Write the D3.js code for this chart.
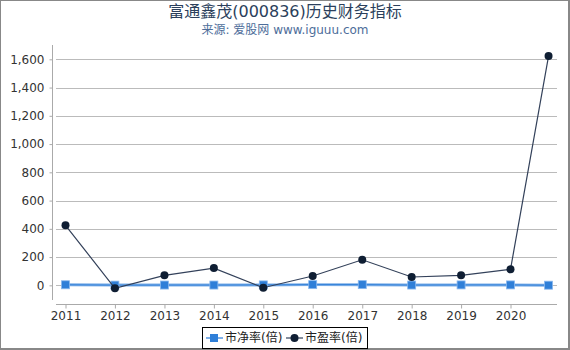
<!DOCTYPE html>
<html>
<head>
<meta charset="utf-8">
<script src="https://cdn.jsdelivr.net/npm/d3@7"></script>
<style>
  body { margin: 0; background: #fff; }
  svg { display: block; font-family: "DejaVu Sans", "Noto Sans CJK SC", sans-serif; }
</style>
</head>
<body>
<script>
// data
var dates = ["2011-01-01", "2012-01-01", "2013-01-01", "2014-01-01", "2015-01-01", "2016-01-01",
             "2017-01-01", "2018-01-01", "2019-01-01", "2020-01-01", "2020-10-08"];
var pb = [4, 1.5, 2, 2, 3, 5, 5, 2, 3, 3, 1];
var pe = [425, -21, 71, 122, -17, 66, 181, 59, 71, 113, 1623];
var yTicks = [0, 200, 400, 600, 800, 1000, 1200, 1400, 1600];
var xTickYears = [2011, 2012, 2013, 2014, 2015, 2016, 2017, 2018, 2019, 2020];

var w = 570, h = 350;
var parse = d3.timeParse("%Y-%m-%d");

var svg = d3.select("body").append("svg")
  .attr("width", w).attr("height", h);

// outer frame
svg.append("rect")
  .attr("x", 0.5).attr("y", 0.5).attr("width", w - 2).attr("height", h - 2)
  .style("fill", "none").style("stroke", "#888").style("stroke-width", 1);
svg.append("line").attr("x1", w - 1).attr("x2", w - 1).attr("y1", 0).attr("y2", h)
  .style("stroke", "#888").style("stroke-width", 2);
svg.append("line").attr("x1", 0).attr("x2", w).attr("y1", h - 1).attr("y2", h - 1)
  .style("stroke", "#888").style("stroke-width", 2);

// titles
svg.append("text").attr("x", 285).attr("y", 17).attr("text-anchor", "middle")
  .style("font-size", "16px").style("fill", "#2b3f5c")
  .text("富通鑫茂(000836)历史财务指标");
svg.append("text").attr("x", 285).attr("y", 34).attr("text-anchor", "middle")
  .style("font-size", "12px").style("fill", "#4d6d9a")
  .text("来源: 爱股网 www.iguuu.com");

var x = d3.scaleTime()
  .domain([parse("2011-01-01"), parse("2020-01-01")])
  .range([65.5, 510.5]);
var y = d3.scaleLinear()
  .domain([-135, 1700])
  .range([304.4, 45.2]);

// grid lines
svg.append("g").selectAll("line").data(yTicks).enter().append("line")
  .attr("x1", 56).attr("x2", 557)
  .attr("y1", function(d) { return Math.round(y(d)) + 0.5; })
  .attr("y2", function(d) { return Math.round(y(d)) + 0.5; })
  .style("stroke", "#bbb").style("stroke-width", 1);

// y axis
var yAxis = svg.append("g").attr("transform", "translate(52.5,0)")
  .call(d3.axisLeft(y).tickValues(yTicks).tickSize(3).tickPadding(5).tickFormat(d3.format(",")));
yAxis.select(".domain").attr("d", "M0," + 45 + "V" + 300).style("stroke", "#aaa");
yAxis.selectAll(".tick line").style("stroke", "#aaa");
yAxis.selectAll("text").style("font-size", "12px").style("fill", "#333")
  .style("font-family", "DejaVu Sans, sans-serif");

// x axis
var xAxis = svg.append("g").attr("transform", "translate(0,304.5)")
  .call(d3.axisBottom(x)
    .tickValues(xTickYears.map(function(d) { return parse(d + "-01-01"); }))
    .tickSize(4).tickPadding(3).tickFormat(d3.timeFormat("%Y")));
xAxis.select(".domain").attr("d", "M56,0H557").style("stroke", "#aaa");
xAxis.selectAll(".tick line").style("stroke", "#aaa");
xAxis.selectAll("text").style("font-size", "12px").style("fill", "#333")
  .style("font-family", "DejaVu Sans, sans-serif");

// PB series
var pbColor = "#2f7fd8";
var line = d3.line()
  .x(function(d, i) { return x(parse(dates[i])); })
  .y(function(d) { return y(d); });

svg.append("path").datum(pb).attr("d", line)
  .style("fill", "none").style("stroke", "#7fb0e8").style("stroke-width", 3);
svg.append("path").datum(pb).attr("d", line)
  .style("fill", "none").style("stroke", pbColor).style("stroke-width", 1);
svg.append("g").selectAll("rect").data(pb).enter().append("rect")
  .attr("x", function(d, i) { return x(parse(dates[i])) - 4; })
  .attr("y", function(d) { return y(d) - 4; })
  .attr("width", 8).attr("height", 8)
  .style("fill", pbColor).style("stroke", "#8ab8ee").style("stroke-width", 0.8);

// PE series
var peColor = "#0f1e33";
svg.append("path").datum(pe).attr("d", line)
  .style("fill", "none").style("stroke", "#33415a").style("stroke-width", 1.2);
svg.append("g").selectAll("circle").data(pe).enter().append("circle")
  .attr("cx", function(d, i) { return x(parse(dates[i])); })
  .attr("cy", function(d) { return y(d); })
  .attr("r", 4)
  .style("fill", peColor);

// legend
var lg = svg.append("g");
lg.append("rect").attr("x", 202.5).attr("y", 327.5).attr("width", 165).attr("height", 21)
  .style("fill", "#fff").style("stroke", "#000").style("stroke-width", 1);
lg.append("line").attr("x1", 206).attr("x2", 223).attr("y1", 338).attr("y2", 338)
  .style("stroke", "#7fb0e8").style("stroke-width", 2);
lg.append("rect").attr("x", 210).attr("y", 334).attr("width", 8).attr("height", 8)
  .style("fill", pbColor);
lg.append("text").attr("x", 225).attr("y", 342).style("font-size", "12px").style("fill", "#222")
  .text("市净率(倍)");
lg.append("line").attr("x1", 286).attr("x2", 303).attr("y1", 338).attr("y2", 338)
  .style("stroke", "#33415a").style("stroke-width", 1.2);
lg.append("circle").attr("cx", 294.5).attr("cy", 338).attr("r", 4).style("fill", peColor);
lg.append("text").attr("x", 305).attr("y", 342).style("font-size", "12px").style("fill", "#222")
  .text("市盈率(倍)");
</script>
</body>
</html>
